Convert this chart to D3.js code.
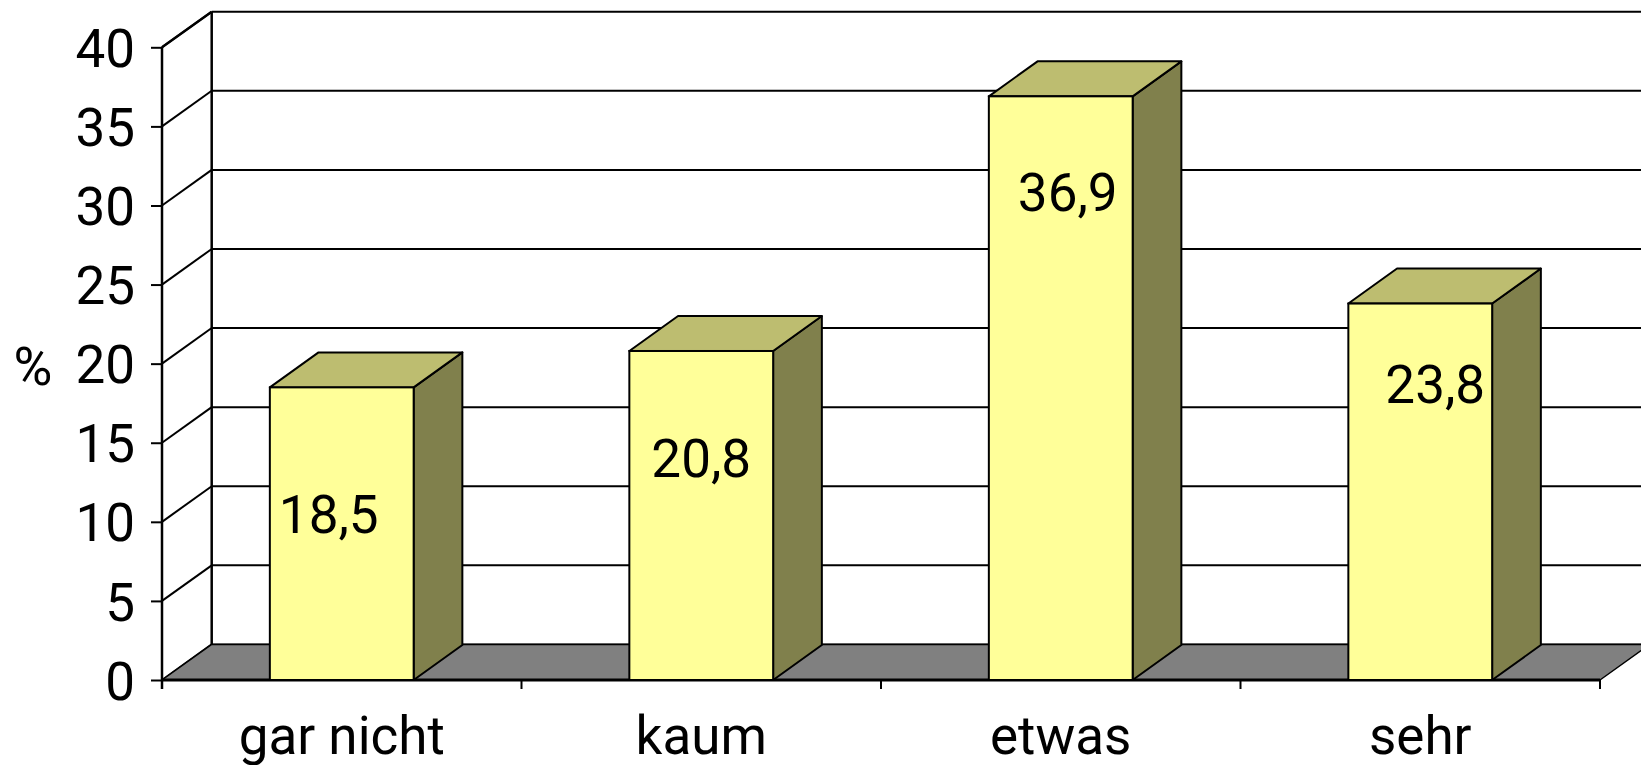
<!DOCTYPE html>
<html>
<head>
<meta charset="utf-8">
<script src="https://cdn.jsdelivr.net/npm/d3@7"></script>
<style>
  html, body { margin: 0; padding: 0; background: #fff; }
  svg { display: block; }
  text { font-family: Roboto, "Liberation Sans", sans-serif; fill: #000; }
</style>
</head>
<body>
<svg id="chart" width="1641" height="765"></svg>
<script>
// Data
const categories = ["gar nicht", "kaum", "etwas", "sehr"];
const values = [18.5, 20.8, 36.9, 23.8];
const valueLabels = ["18,5", "20,8", "36,9", "23,8"];
const yTicks = [0, 5, 10, 15, 20, 25, 30, 35, 40];
const yAxisTitle = "%";

// Layout
const W = 1641, H = 765;
const frontLeft = 162, frontRight = 1600;
const floorY = 680, topY = 47.3;
const depthX = 49.7, depthY = -35.6;       // oblique offset of the back wall
const fontSize = 53;
// label nudges inside each bar (px from the top-front-centre of the bar)
const labelNudge = [[-13, 127], [0, 107], [7, 96], [15, 80]];

const colors = {
  front: "#FFFF99",
  top: "#BDBD70",
  side: "#80804C",
  floor: "#808080"
};

const svg = d3.select("#chart");
svg.append("rect").attr("width", W).attr("height", H).attr("fill", "#fff");

const y = d3.scaleLinear().domain([0, 40]).range([floorY, topY]);
const x = d3.scaleBand().domain(categories).range([frontLeft, frontRight])
  .paddingInner(0.6).paddingOuter(0.3);
const step = x.step();

const g = svg.append("g");

// Back wall gridlines
g.selectAll("line.grid-back").data(yTicks).join("line")
  .attr("class", "grid-back")
  .attr("x1", frontLeft + depthX).attr("x2", W + 20)
  .attr("y1", d => y(d) + depthY).attr("y2", d => y(d) + depthY)
  .attr("stroke", "#000").attr("stroke-width", 2);

// Side wall gridlines (diagonals)
g.selectAll("line.grid-side").data(yTicks).join("line")
  .attr("class", "grid-side")
  .attr("x1", frontLeft).attr("x2", frontLeft + depthX)
  .attr("y1", d => y(d)).attr("y2", d => y(d) + depthY)
  .attr("stroke", "#000").attr("stroke-width", 2);

// Back wall left edge
g.append("line")
  .attr("x1", frontLeft + depthX).attr("x2", frontLeft + depthX)
  .attr("y1", y(40) + depthY).attr("y2", y(0) + depthY)
  .attr("stroke", "#000").attr("stroke-width", 2.5);

// Floor
const floorPts = [
  [frontLeft, y(0)], [frontRight, y(0)],
  [frontRight + depthX, y(0) + depthY], [frontLeft + depthX, y(0) + depthY]
];
g.append("polygon")
  .attr("points", floorPts.map(p => p.join(",")).join(" "))
  .attr("fill", colors.floor).attr("stroke", "#000").attr("stroke-width", 1.5)
  .attr("stroke-linejoin", "round");
g.append("line")
  .attr("x1", frontLeft).attr("x2", frontRight)
  .attr("y1", y(0)).attr("y2", y(0))
  .attr("stroke", "#000").attr("stroke-width", 3);

// Bars
const bars = g.selectAll("g.bar").data(categories.map((c, i) => ({ c, v: values[i], i })))
  .join("g").attr("class", "bar");

bars.each(function (d) {
  const b = d3.select(this);
  const x0 = x(d.c), x1 = x(d.c) + x.bandwidth();
  const yt = y(d.v), yb = y(0);
  const dx = depthX - 1, dy = depthY + 0.6;
  const poly = pts => pts.map(p => p.join(",")).join(" ");
  // side face
  b.append("polygon")
    .attr("points", poly([[x1, yt], [x1 + dx, yt + dy], [x1 + dx, yb + dy], [x1, yb]]))
    .attr("fill", colors.side).attr("stroke", "#000").attr("stroke-width", 2)
    .attr("stroke-linejoin", "round");
  // top face
  b.append("polygon")
    .attr("points", poly([[x0, yt], [x1, yt], [x1 + dx, yt + dy], [x0 + dx, yt + dy]]))
    .attr("fill", colors.top).attr("stroke", "#000").attr("stroke-width", 2)
    .attr("stroke-linejoin", "round");
  // front face
  b.append("rect")
    .attr("x", x0).attr("y", yt).attr("width", x1 - x0).attr("height", yb - yt)
    .attr("fill", colors.front).attr("stroke", "#000").attr("stroke-width", 2);
  // value label
  const [nx, ny] = labelNudge[d.i];
  b.append("text")
    .attr("x", (x0 + x1) / 2 + nx).attr("y", yt + ny)
    .attr("dy", "0.36em")
    .attr("text-anchor", "middle")
    .attr("font-size", fontSize)
    .text(valueLabels[d.i]);
});

// Front value axis
const yAxis = d3.axisLeft(y).tickValues(yTicks).tickSize(11).tickPadding(16)
  .tickFormat(d3.format("d"));
const ya = svg.append("g").attr("transform", `translate(${frontLeft},0)`).call(yAxis);
ya.select(".domain").remove();
ya.selectAll(".tick line").attr("stroke", "#000").attr("stroke-width", 2);
ya.selectAll(".tick text")
  .attr("font-size", fontSize)
  .attr("font-family", "Roboto, 'Liberation Sans', sans-serif")
  .attr("fill", "#000").attr("dy", "0.36em");
svg.append("line")
  .attr("x1", frontLeft).attr("x2", frontLeft)
  .attr("y1", y(40)).attr("y2", y(0) + 9)
  .attr("stroke", "#000").attr("stroke-width", 2.5);
// top-left edge of the side wall
svg.append("line")
  .attr("x1", frontLeft).attr("x2", frontLeft + depthX)
  .attr("y1", y(40)).attr("y2", y(40) + depthY)
  .attr("stroke", "#000").attr("stroke-width", 2.5);

// Category axis: ticks on band boundaries, labels at band centres
const boundaries = d3.range(categories.length + 1).map(i => frontLeft + i * step);
svg.selectAll("line.cat-tick").data(boundaries).join("line")
  .attr("class", "cat-tick")
  .attr("x1", d => d).attr("x2", d => d)
  .attr("y1", y(0)).attr("y2", y(0) + 9)
  .attr("stroke", "#000").attr("stroke-width", 2);
svg.selectAll("text.cat").data(categories).join("text")
  .attr("class", "cat")
  .attr("x", d => x(d) + x.bandwidth() / 2)
  .attr("y", 754)
  .attr("text-anchor", "middle")
  .attr("font-size", fontSize)
  .text(d => d);

// Axis title
svg.append("text")
  .attr("x", 33).attr("y", y(20) + 2)
  .attr("dy", "0.36em")
  .attr("text-anchor", "middle")
  .attr("font-size", fontSize)
  .text(yAxisTitle);
</script>
</body>
</html>
